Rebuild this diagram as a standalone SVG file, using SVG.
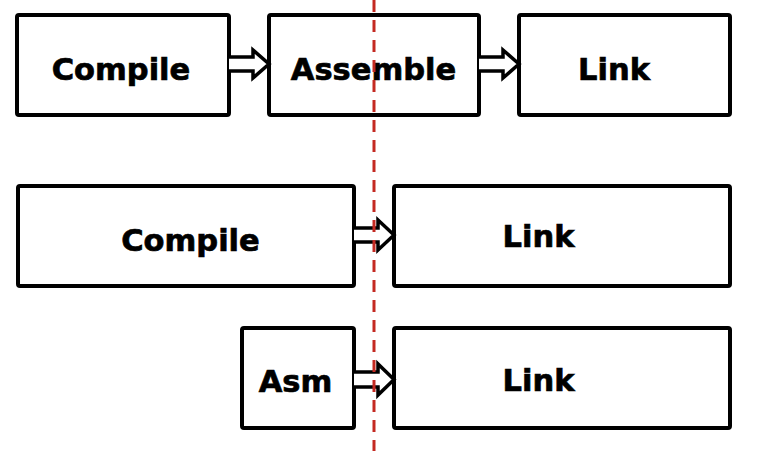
<svg xmlns="http://www.w3.org/2000/svg" width="759" height="451" viewBox="0 0 759 451">
<style>
.box{fill:#fff;stroke:#000;stroke-width:4;stroke-linejoin:round}
.lbl{font-family:"DejaVu Sans",Verdana,sans-serif;font-weight:bold;font-size:30.5px;fill:#000;stroke:#000;stroke-width:0.7;text-anchor:middle}
.arr{fill:#fff;stroke:#000;stroke-width:3.5;stroke-linejoin:miter}
.cut{stroke:#c42a22;stroke-width:3;stroke-dasharray:12 8;fill:none}
</style>
<rect width="759" height="451" fill="#fff"/>
<g id="compile1"><rect class="box" x="17" y="15" width="212" height="100" rx="2"/><text class="lbl" x="121" y="80">Compile</text></g>
<g id="assemble"><rect class="box" x="269" y="15" width="210" height="100" rx="2"/><text class="lbl" x="373.5" y="80">Assemble</text></g>
<g id="link1"><rect class="box" x="519" y="15" width="211" height="100" rx="2"/><text class="lbl" x="614" y="80">Link</text></g>
<g id="compile2"><rect class="box" x="18" y="186" width="336" height="100" rx="2"/><text class="lbl" x="190.5" y="251">Compile</text></g>
<g id="link2"><rect class="box" x="394" y="186" width="336" height="100" rx="2"/><text class="lbl" x="538.5" y="247">Link</text></g>
<g id="asm"><rect class="box" x="242" y="328" width="112" height="100" rx="2"/><text class="lbl" x="295.5" y="392">Asm</text></g>
<g id="link3"><rect class="box" x="394" y="328" width="336" height="100" rx="2"/><text class="lbl" x="538.5" y="391">Link</text></g>
<g id="connectors">
<path class="arr" d="M229 57 H253 V50 L269 64 L253 78 V71 H229"/>
<path class="arr" d="M479 57 H503 V50 L519 64 L503 78 V71 H479"/>
<path class="arr" d="M354 228 H378 V220 L394 235 L378 250 V242 H354"/>
<path class="arr" d="M354 372 H378 V364 L394 379.5 L378 395 V387 H354"/>
</g>
<line id="cut-line" class="cut" x1="374" y1="0" x2="374" y2="451"/>
</svg>
